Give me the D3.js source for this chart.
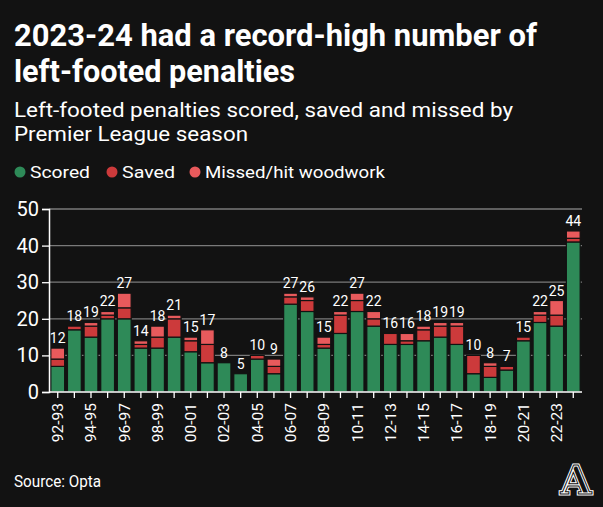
<!DOCTYPE html>
<html><head><meta charset="utf-8">
<script src="https://cdn.jsdelivr.net/npm/d3@7"></script>
<style>
html,body{margin:0;padding:0;background:#121212;}
svg{display:block;}
</style></head>
<body>
<svg id="c" width="603" height="507"></svg>
<script>
const seasons = ["92-93","93-94","94-95","95-96","96-97","97-98","98-99","99-00","00-01","01-02","02-03","03-04","04-05","05-06","06-07","07-08","08-09","09-10","10-11","11-12","12-13","13-14","14-15","15-16","16-17","17-18","18-19","19-20","20-21","21-22","22-23","23-24"];
const scored = [7,17,15,20,20,12,12,15,11,8,8,5,9,5,24,22,12,16,22,18,13,13,14,15,13,5,4,6,14,19,18,41];
const saved  = [2,1,3,1,3,1,3,5,3,5,0,0,1,2,2,3,1,5,3,2,3,1,3,3,5,5,3,1,1,2,3,1];
const missed = [3,0,1,1,4,1,3,1,1,4,0,0,0,2,1,1,2,1,2,2,0,2,1,1,1,0,1,0,0,1,4,2];
const seriesKeys = ["scored","saved","missed"];
const seriesNames = ["Scored","Saved","Missed/hit woodwork"];
const yTicks = [0,10,20,30,40,50];

const colors = {scored:"#2e8a58", saved:"#cc3a3b", missed:"#e85a5c"};
const bg = "#121212";
const svg = d3.select("#c");
svg.append("rect").attr("width",603).attr("height",507).attr("fill",bg);

const font = "Roboto, 'Liberation Sans', sans-serif";

function txt(x,y,s,size,weight,len,fill){
  const t = svg.append("text").attr("x",x).attr("y",y).text(s)
    .attr("font-family",font).attr("font-size",size).attr("font-weight",weight)
    .attr("fill",fill||"#fff");
  if(len) t.attr("textLength",len).attr("lengthAdjust","spacingAndGlyphs");
  return t;
}
txt(14,46,"2023-24 had a record-high number of",31,700,523);
txt(14,82,"left-footed penalties",31,700,281);
txt(14,117,"Left-footed penalties scored, saved and missed by",21,400,499);
txt(14,141,"Premier League season",21,400,234);

// Legend
const legX = [[20,30,60],[112,122,53],[195,205,180]];
seriesKeys.forEach((k,i)=>{
  svg.append("circle").attr("cx",legX[i][0]).attr("cy",172).attr("r",5.5).attr("fill",colors[k]);
  txt(legX[i][1],178,seriesNames[i],17,400,legX[i][2]);
});

// Scales
const x = d3.scaleBand().domain(seasons).range([50,581]).paddingInner(0.17).paddingOuter(0.05);
const y = d3.scaleLinear().domain([0,50]).range([392,209]);

// Gridlines
svg.append("g").selectAll("line").data(yTicks.filter(d=>d>0)).join("line")
  .attr("x1",49).attr("x2",582).attr("y1",d=>y(d)).attr("y2",d=>y(d))
  .attr("stroke","#7a7a7a").attr("stroke-width",1.3);

// Stacked bars
const rows = seasons.map((s,i)=>({season:s, scored:scored[i], saved:saved[i], missed:missed[i]}));
const stack = d3.stack().keys(seriesKeys)(rows);
svg.append("g").selectAll("g").data(stack).join("g").attr("fill",d=>colors[d.key])
  .selectAll("rect").data(d=>d.filter(p=>p[1]>p[0])).join("rect")
  .attr("x",d=>x(d.data.season)).attr("width",x.bandwidth())
  .attr("y",d=>y(d[1])).attr("height",d=>y(d[0])-y(d[1]))
  .attr("stroke",bg).attr("stroke-width",1.2);

// Total labels
svg.append("g").selectAll("text").data(rows).join("text")
  .attr("x",d=>x(d.season)+x.bandwidth()/2)
  .attr("y",d=>y(d.scored+d.saved+d.missed)-5)
  .attr("text-anchor","middle").attr("fill","#fff")
  .attr("font-family",font).attr("font-size",14).attr("font-weight",400)
  .text(d=>d.scored+d.saved+d.missed);

// Y axis
const yAxis = svg.append("g").attr("transform","translate(49,0)")
  .call(d3.axisLeft(y).tickValues(yTicks).tickSize(7).tickPadding(3));
yAxis.select(".domain").attr("stroke","#fff").attr("stroke-width",1.5);
yAxis.selectAll(".tick line").attr("stroke","#fff").attr("stroke-width",1.3);
yAxis.selectAll("text").attr("fill","#fff").attr("font-family",font).attr("font-size",20);

// X axis
const xAxis = svg.append("g").attr("transform","translate(0,392)")
  .call(d3.axisBottom(x).tickSize(6).tickSizeOuter(0)
    .tickFormat((d,i)=> i%2===0 ? d : ""));
xAxis.select(".domain").attr("stroke","#fff").attr("stroke-width",1.5)
  .attr("d","M49,0H582");
xAxis.selectAll(".tick line").attr("stroke","#fff").attr("stroke-width",1.3);
xAxis.selectAll("text").attr("fill","#fff").attr("font-family",font).attr("font-size",15.5)
  .attr("transform","rotate(-90)").attr("text-anchor","end")
  .attr("x",-11).attr("y",0).attr("dy","0.35em");

// Source
txt(14,487,"Source: Opta",16,400,87);

// Logo
const logo = svg.append("g");
logo.append("text").attr("x",576).attr("y",494).attr("text-anchor","middle")
  .attr("font-family","'DejaVu Serif', serif").attr("font-size",40).attr("font-weight",700)
  .attr("fill",bg).attr("stroke","#fff").attr("stroke-width",3).text("A");
logo.append("text").attr("x",576).attr("y",494).attr("text-anchor","middle")
  .attr("font-family","'DejaVu Serif', serif").attr("font-size",40).attr("font-weight",700)
  .attr("fill","none").attr("stroke",bg).attr("stroke-width",1).text("A");
</script>
</body></html>
